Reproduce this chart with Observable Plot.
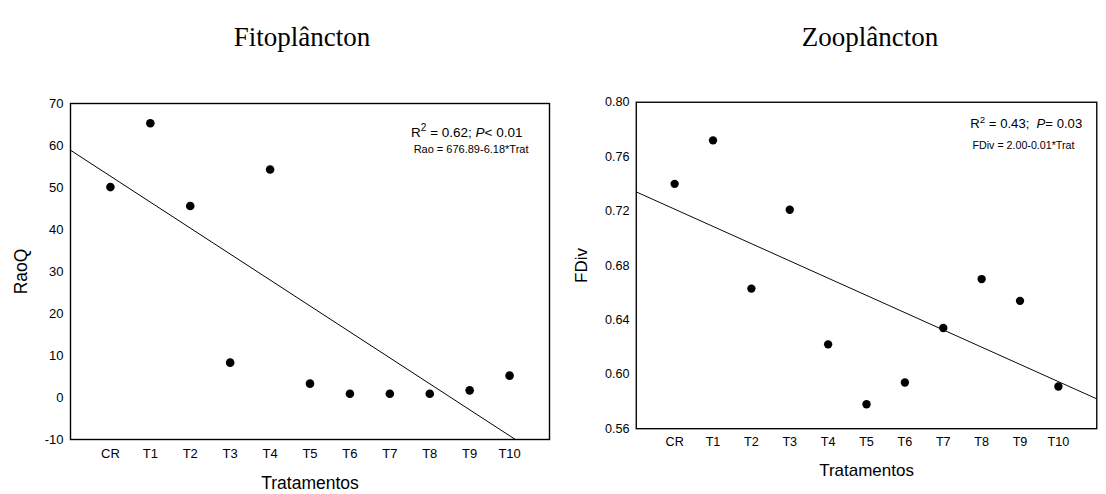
<!DOCTYPE html>
<html><head><meta charset="utf-8">
<script src="https://cdn.jsdelivr.net/npm/d3@7"></script>
<script src="https://cdn.jsdelivr.net/npm/@observablehq/plot@0.6"></script>
<style>
html,body{margin:0;padding:0;background:#fff;overflow:hidden}
#wrap{position:relative;width:1106px;height:494px;overflow:hidden;background:#fff}
.title{position:absolute;top:24px;font-family:"Liberation Serif","Times New Roman",serif;font-size:27px;line-height:27px;color:#000;white-space:nowrap;transform:translateX(-50%)}
.panel{position:absolute;top:60px}
.panel svg{overflow:visible}
.panel g[aria-label="x-axis label"] text,.panel g[aria-label="y-axis label"] text{font-size:17.5px}
</style></head><body><div id="wrap"></div>
<script>
// ---- data ----
const categories = ["CR","T1","T2","T3","T4","T5","T6","T7","T8","T9","T10"];
const raoQ = [50.1, 65.3, 45.6, 8.3, 54.3, 3.3, 0.9, 0.9, 0.9, 1.7, 5.2];
const fdiv = [0.740, 0.772, 0.663, 0.721, 0.622, 0.578, 0.594, 0.634, 0.670, 0.654, 0.591];
const raoFit = [52.7, -6.18];        // intercept, slope (per treatment step)
const fdivFit = [0.7214, -0.01268];
const raoTicks = [-10, 0, 10, 20, 30, 40, 50, 60, 70];
const fdivTicks = [0.56, 0.60, 0.64, 0.68, 0.72, 0.76, 0.80];
const titles = ["Fitoplâncton", "Zooplâncton"];

const wrap = document.getElementById("wrap");

function panel(o) {
  const data = o.values.map((v, i) => ({i, v}));
  const fitPts = [-1, 11].map(x => ({x, y: o.fit[0] + o.fit[1] * x}));
  const chart = Plot.plot({
    width: o.width, height: 434,
    marginTop: 43, marginBottom: 55, marginLeft: o.marginLeft, marginRight: o.marginRight,
    style: {fontFamily: "'Liberation Sans', Arial, sans-serif", fontSize: "13px", color: "#000", background: "transparent", overflow: "visible"},
    x: {domain: [-1, 11]},
    y: {domain: o.yDomain},
    marks: [
      Plot.axisX({ticks: d3.range(categories.length), tickFormat: i => categories[i], tickSize: 0, tickPadding: 9,
        label: "Tratamentos", labelAnchor: "center", labelArrow: "none", labelOffset: 49}),
      Plot.axisY({ticks: o.yTicks, tickFormat: o.yFormat, tickSize: 0, tickPadding: 7,
        label: o.yLabel, labelAnchor: "center", labelArrow: "none", labelOffset: o.labelOffset}),
      Plot.line(fitPts, {x: "x", y: "y", stroke: "#000", strokeWidth: 1, clip: true}),
      Plot.dot(data, {x: "i", y: "v", r: 4.3, fill: "#000", stroke: "none"}),
      Plot.frame({stroke: "#000", strokeWidth: 1.4}),
      Plot.text([o.ann1], {frameAnchor: "top-right", textAnchor: "end", lineAnchor: "bottom", dx: o.a1[0], dy: o.a1[1], fontSize: 13.5}),
      Plot.text([o.ann2], {frameAnchor: "top-right", textAnchor: "end", lineAnchor: "bottom", dx: o.a2[0], dy: o.a2[1], fontSize: 11})
    ]
  });
  const div = document.createElement("div");
  div.className = "panel";
  div.style.left = o.left + "px";
  div.appendChild(chart);
  wrap.appendChild(div);
  d3.select(chart).selectAll("text").filter(function() { return this.textContent === o.ann1; }).html(o.ann1html);
  return chart;
}

panel({
  values: raoQ, fit: raoFit, yDomain: [-10, 70], yTicks: raoTicks, yFormat: d => String(d),
  yLabel: "RaoQ", labelOffset: 56, left: 0, width: 560, marginLeft: 70, marginRight: 11,
  ann1: "R2 = 0.62; P < 0.01",
  ann1html: 'R<tspan dy="-6" font-size="10">2</tspan><tspan dy="6"> = 0.62; </tspan><tspan font-style="italic">P</tspan>&lt; 0.01',
  ann2: "Rao = 676.89-6.18*Trat",
  a1: [-27, 33], a2: [-21, 49]
});

panel({
  values: fdiv, fit: fdivFit, yDomain: [0.56, 0.80], yTicks: fdivTicks, yFormat: d3.format(".2f"),
  yLabel: "FDiv", labelOffset: 63, left: 560, width: 562, marginLeft: 78, marginRight: 10,
  ann1: "R2 = 0.43;  P = 0.03",
  ann1html: 'R<tspan dy="-6" font-size="10">2</tspan><tspan dy="6"> = 0.43;  </tspan><tspan font-style="italic">P</tspan>= 0.03',
  ann2: "FDiv = 2.00-0.01*Trat",
  a1: [-15, 27], a2: [-23, 48]
});

[[titles[0], 302], [titles[1], 870]].forEach(([t, x]) => {
  const d = document.createElement("div");
  d.className = "title";
  d.style.left = x + "px";
  d.textContent = t;
  wrap.appendChild(d);
});
</script></body></html>
